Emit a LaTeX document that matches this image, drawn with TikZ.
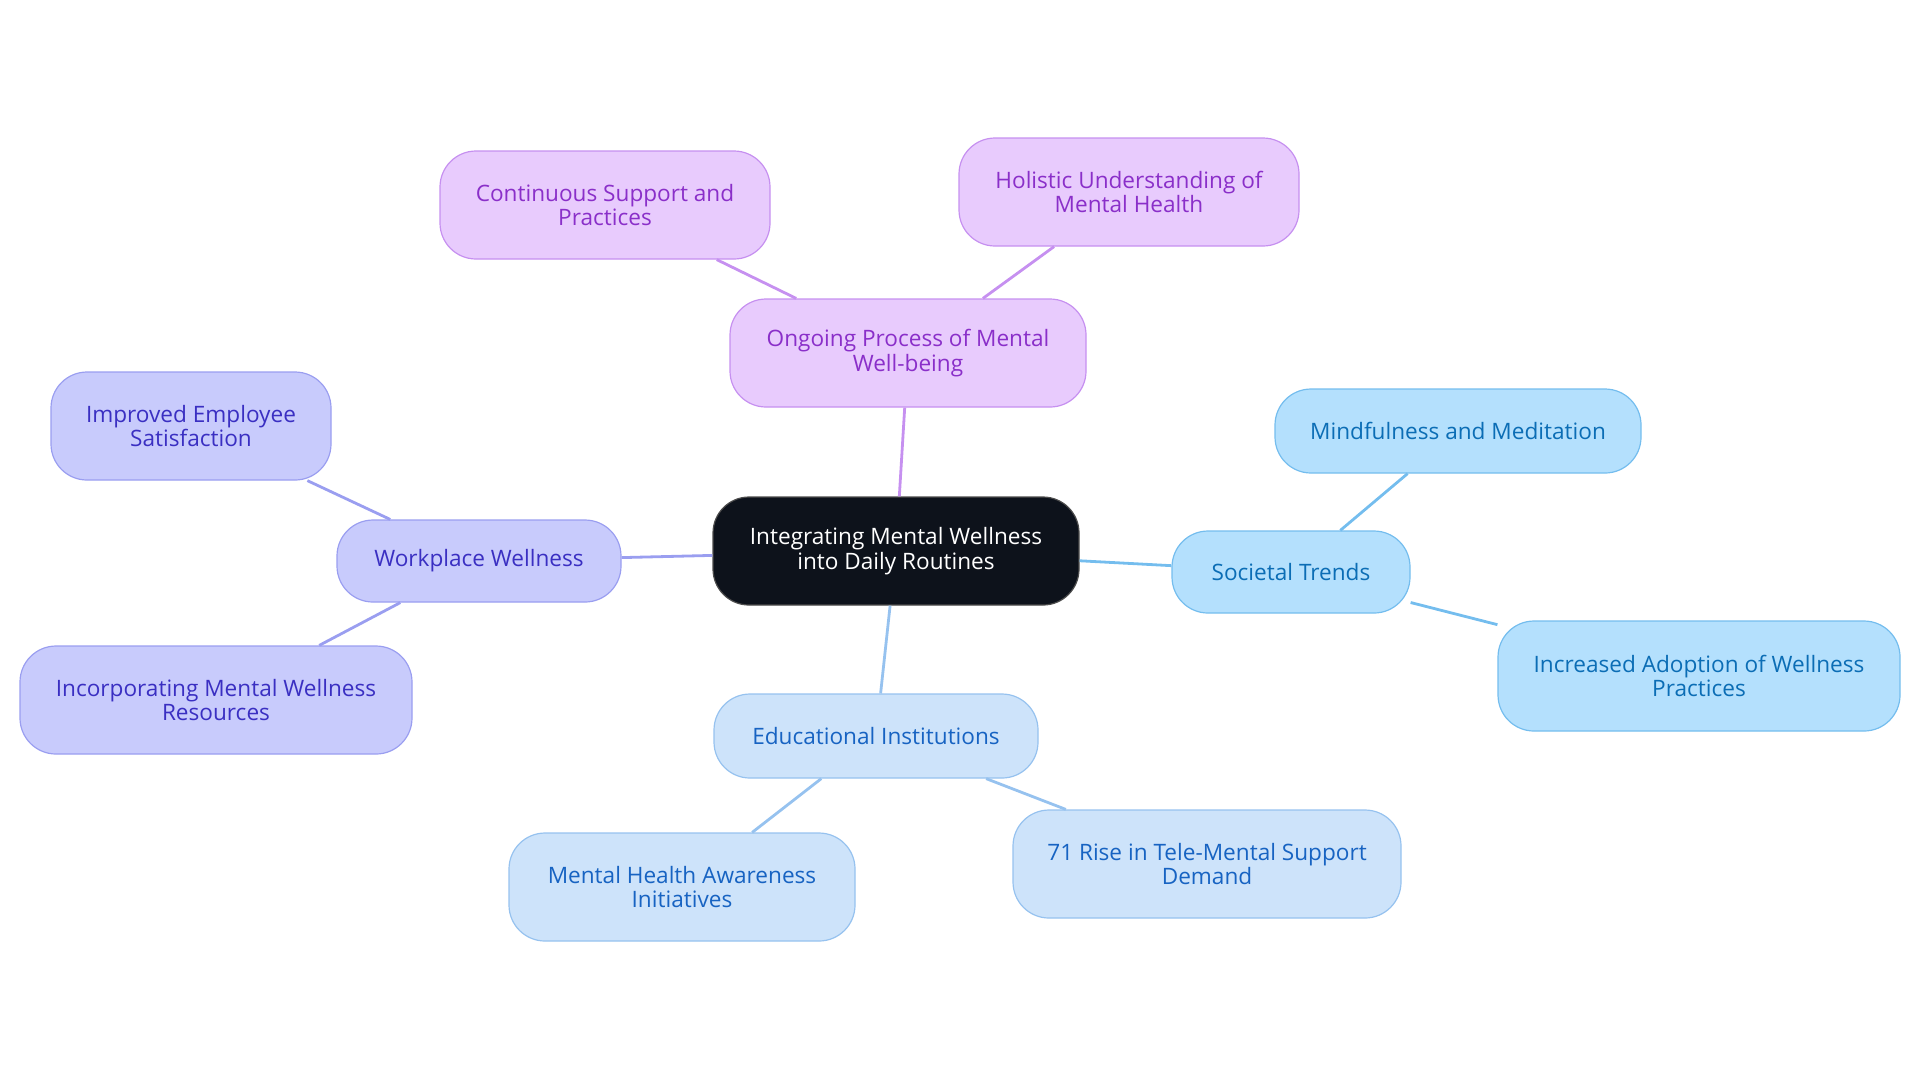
\documentclass[tikz,border=0pt]{standalone}
\usepackage{fontspec}
\setmainfont{Open Sans}
\definecolor{rootfill}{HTML}{0D121B}
\definecolor{purfill}{HTML}{E8CBFD}
\definecolor{purline}{HTML}{C690F0}
\definecolor{purtext}{HTML}{8A2FC9}
\definecolor{indfill}{HTML}{C8CBFC}
\definecolor{indline}{HTML}{9A9EF0}
\definecolor{indtext}{HTML}{3A2FC2}
\definecolor{skyfill}{HTML}{B4E0FD}
\definecolor{skyline}{HTML}{74BDEE}
\definecolor{skytext}{HTML}{0B6DB5}
\definecolor{edufill}{HTML}{CDE3FA}
\definecolor{eduline}{HTML}{96C2EF}
\definecolor{edutext}{HTML}{1763C2}
\begin{document}
\begin{tikzpicture}[x=0.5pt, y=-0.5pt]
\useasboundingbox (0,0) rectangle (1920,1083);

\tikzset{every node/.style={rounded corners=18pt, align=center, font=\fontsize{11.3}{12.3}\selectfont, line width=0.6pt, inner sep=0pt}}
\tikzset{pur/.style={fill=purfill, draw=purline, text=purtext}}
\tikzset{ind/.style={fill=indfill, draw=indline, text=indtext}}
\tikzset{sky/.style={fill=skyfill, draw=skyline, text=skytext}}
\tikzset{edu/.style={fill=edufill, draw=eduline, text=edutext}}

\node [fill=rootfill, draw=black!70, text=white, minimum width=183pt, minimum height=54pt] (root) at (896, 551) {Integrating Mental Wellness\\into Daily Routines};

\node [pur, minimum width=178pt, minimum height=54pt] (p) at (908, 353) {Ongoing Process of Mental\\Well-being};
\node [pur, minimum width=165pt, minimum height=54pt] (p1) at (605, 205) {Continuous Support and\\Practices};
\node [pur, minimum width=170pt, minimum height=54pt] (p2) at (1129, 192) {Holistic Understanding of\\Mental Health};

\node [ind, minimum width=142pt, minimum height=41pt] (w) at (479, 561) {Workplace Wellness};
\node [ind, minimum width=140pt, minimum height=54pt] (w1) at (191, 426) {Improved Employee\\Satisfaction};
\node [ind, minimum width=196pt, minimum height=54pt] (w2) at (216, 700) {Incorporating Mental Wellness\\Resources};

\node [sky, minimum width=119pt, minimum height=41pt] (s) at (1291, 572) {Societal Trends};
\node [sky, minimum width=183pt, minimum height=42pt] (s1) at (1458, 431) {Mindfulness and Meditation};
\node [sky, minimum width=201pt, minimum height=55pt] (s2) at (1699, 676) {Increased Adoption of Wellness\\Practices};

\node [edu, minimum width=162pt, minimum height=42pt] (e) at (876, 736) {Educational Institutions};
\node [edu, minimum width=173pt, minimum height=54pt] (e1) at (682, 887) {Mental Health Awareness\\Initiatives};
\node [edu, minimum width=194pt, minimum height=54pt] (e2) at (1207, 864) {71 Rise in Tele-Mental Support\\Demand};

\tikzset{mystyle/.style={line width=1.4pt}}
\path (root) edge [mystyle, draw=purline] (p);
\path (p) edge [mystyle, draw=purline] (p1);
\path (p) edge [mystyle, draw=purline] (p2);
\path (root) edge [mystyle, draw=indline] (w);
\path (w) edge [mystyle, draw=indline] (w1);
\path (w) edge [mystyle, draw=indline] (w2);
\path (root) edge [mystyle, draw=skyline] (s);
\path (s) edge [mystyle, draw=skyline] (s1);
\path (s) edge [mystyle, draw=skyline] (s2);
\path (root) edge [mystyle, draw=eduline] (e);
\path (e) edge [mystyle, draw=eduline] (e1);
\path (e) edge [mystyle, draw=eduline] (e2);
\end{tikzpicture}
\end{document}
